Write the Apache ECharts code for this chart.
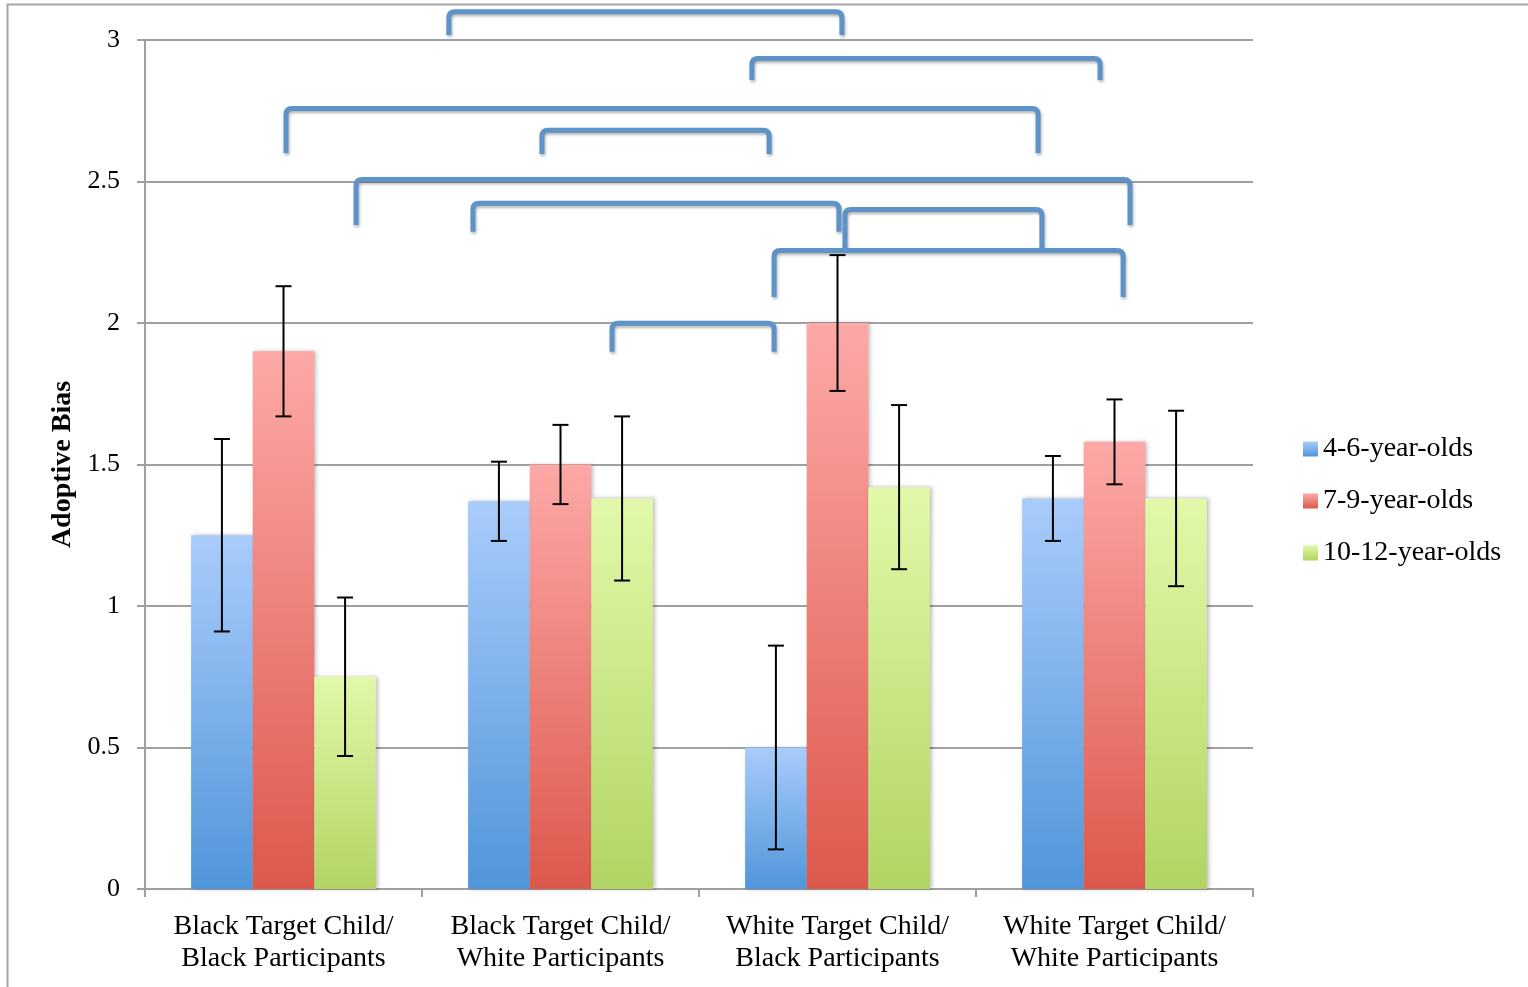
<!DOCTYPE html>
<html>
<head>
<meta charset="utf-8">
<script src="https://cdn.jsdelivr.net/npm/echarts@6/dist/echarts.min.js"></script>
<style>
html,body{margin:0;padding:0;background:#fff;}
#chart{width:1528px;height:987px;}
</style>
</head>
<body>
<div id="chart"></div>
<script>
// ---- data ----
var categories = ['Black Target Child/\nBlack Participants', 'Black Target Child/\nWhite Participants', 'White Target Child/\nBlack Participants', 'White Target Child/\nWhite Participants'];
var seriesNames = ['4-6-year-olds', '7-9-year-olds', '10-12-year-olds'];
var young = [1.25, 1.37, 0.50, 1.38];
var middle = [1.90, 1.50, 2.00, 1.58];
var older = [0.75, 1.38, 1.42, 1.38];
var youngErr = [[0.91, 1.59], [1.23, 1.51], [0.14, 0.86], [1.23, 1.53]];
var middleErr = [[1.67, 2.13], [1.36, 1.64], [1.76, 2.24], [1.43, 1.73]];
var olderErr = [[0.47, 1.03], [1.09, 1.67], [1.13, 1.71], [1.07, 1.69]];
var yTicks = [0, 0.5, 1, 1.5, 2, 2.5, 3];
// significance brackets: [xStart, xEnd, yTop, yLegBottom] (x in category-band units)
var brackets = [
  [1.097, 2.516, 3.10, 3.018],
  [2.191, 3.448, 2.935, 2.859],
  [0.509, 3.224, 2.758, 2.601],
  [1.433, 2.253, 2.681, 2.597],
  [0.762, 3.556, 2.507, 2.346],
  [1.184, 2.505, 2.423, 2.322],
  [2.527, 3.238, 2.401, 2.265],
  [2.271, 3.531, 2.256, 2.092],
  [1.686, 2.271, 1.999, 1.898]
];

var FONT = '"Liberation Serif", "DejaVu Serif", serif';
var values = [young, middle, older];
var errs = [youngErr, middleErr, olderErr];
var grads = [
  ['#a9ccfb', '#5095da'],
  ['#fda9a7', '#dc584c'],
  ['#e1f9a9', '#b2d463']
];
var GAP = 0.333;

function grad(c) {
  return new echarts.graphic.LinearGradient(0, 0, 0, 1, [
    {offset: 0, color: c[0]}, {offset: 1, color: c[1]}
  ]);
}

var series = [];
for (var s = 0; s < 3; s++) {
  series.push({
    name: seriesNames[s],
    type: 'bar',
    data: values[s],
    barGap: 0,
    barCategoryGap: (GAP * 100) + '%',
    itemStyle: {color: grad(grads[s]), shadowBlur: 4, shadowColor: 'rgba(0,0,0,0.25)', shadowOffsetX: 2, shadowOffsetY: 0},
    emphasis: {disabled: true},
    z: 2
  });
}
for (var s2 = 0; s2 < 3; s2++) {
  (function (si) {
    series.push({
      type: 'custom',
      name: 'err' + si,
      data: errs[si].map(function (e, i) { return [i, e[0], e[1]]; }),
      z: 5,
      silent: true,
      renderItem: function (params, api) {
        var c = api.value(0);
        var band = api.size([1, 0])[0];
        var bw = band * (1 - GAP) / 3;
        var off = (si - 1) * bw;
        var lo = api.coord([c, api.value(1)]);
        var hi = api.coord([c, api.value(2)]);
        var x = lo[0] + off;
        var cap = 8;
        var st = {stroke: '#000', lineWidth: 2};
        return {type: 'group', children: [
          {type: 'line', shape: {x1: x, y1: lo[1], x2: x, y2: hi[1]}, style: st},
          {type: 'line', shape: {x1: x - cap, y1: lo[1], x2: x + cap, y2: lo[1]}, style: st},
          {type: 'line', shape: {x1: x - cap, y1: hi[1], x2: x + cap, y2: hi[1]}, style: st}
        ]};
      }
    });
  })(s2);
}
series.push({
  type: 'custom',
  name: 'brackets',
  xAxisIndex: 1,
  data: brackets,
  clip: false,
  silent: true,
  z: 6,
  renderItem: function (params, api) {
    var a = api.coord([api.value(0), api.value(2)]);
    var b = api.coord([api.value(1), api.value(3)]);
    var r = 6;
    var x1 = a[0], x2 = b[0], yt = a[1], yb = b[1];
    var path = 'M' + x1 + ' ' + yb + ' L' + x1 + ' ' + (yt + r) +
      ' Q' + x1 + ' ' + yt + ' ' + (x1 + r) + ' ' + yt +
      ' L' + (x2 - r) + ' ' + yt +
      ' Q' + x2 + ' ' + yt + ' ' + x2 + ' ' + (yt + r) +
      ' L' + x2 + ' ' + yb;
    return {
      type: 'path',
      shape: {pathData: path},
      style: {fill: null, stroke: '#5e93c9', lineWidth: 5, lineCap: 'butt', lineJoin: 'round',
        shadowBlur: 3, shadowColor: 'rgba(0,0,0,0.3)', shadowOffsetX: 1, shadowOffsetY: 2}
    };
  }
});

var chart = echarts.init(document.getElementById('chart'), null, {renderer: 'canvas'});
chart.setOption({
  animation: false,
  backgroundColor: '#fff',
  textStyle: {fontFamily: FONT},
  graphic: [{
    type: 'polyline', silent: true,
    shape: {points: [[7.5, 987], [7.5, 4.5], [1528, 4.5]]},
    style: {stroke: '#a6a6a6', lineWidth: 2, fill: null}
  }],
  grid: {left: 145, right: 275, top: 40, bottom: 98},
  legend: {
    data: seriesNames,
    orient: 'vertical',
    left: 1298,
    top: 430,
    itemWidth: 15,
    itemHeight: 15,
    itemGap: 24,
    icon: 'rect',
    textStyle: {fontFamily: FONT, fontSize: 28, color: '#000'},
    selectedMode: false
  },
  xAxis: [{
    type: 'category',
    data: categories,
    axisLine: {lineStyle: {color: '#a0a0a0', width: 2}},
    axisTick: {show: true, interval: 0, length: 8, lineStyle: {color: '#a0a0a0', width: 2}},
    axisLabel: {interval: 0, hideOverlap: false, fontFamily: FONT, fontSize: 28, color: '#000', margin: 22, lineHeight: 32},
    splitLine: {show: false}
  }, {
    type: 'value', min: 0, max: 4, show: false
  }],
  yAxis: {
    type: 'value',
    min: 0, max: 3, interval: 0.5,
    name: 'Adoptive Bias',
    nameLocation: 'middle',
    nameGap: 67,
    nameRotate: 90,
    nameTextStyle: {fontFamily: FONT, fontSize: 28, fontWeight: 'bold', color: '#000'},
    axisLine: {show: true, lineStyle: {color: '#a0a0a0', width: 2}},
    axisTick: {show: true, length: 8, lineStyle: {color: '#a0a0a0', width: 2}},
    axisLabel: {fontFamily: FONT, fontSize: 26, color: '#000', margin: 25,
      formatter: function (v) { return yTicks.indexOf(v) >= 0 ? String(v) : ''; }},
    splitLine: {lineStyle: {color: '#a0a0a0', width: 2}}
  },
  series: series
});
</script>
</body>
</html>
